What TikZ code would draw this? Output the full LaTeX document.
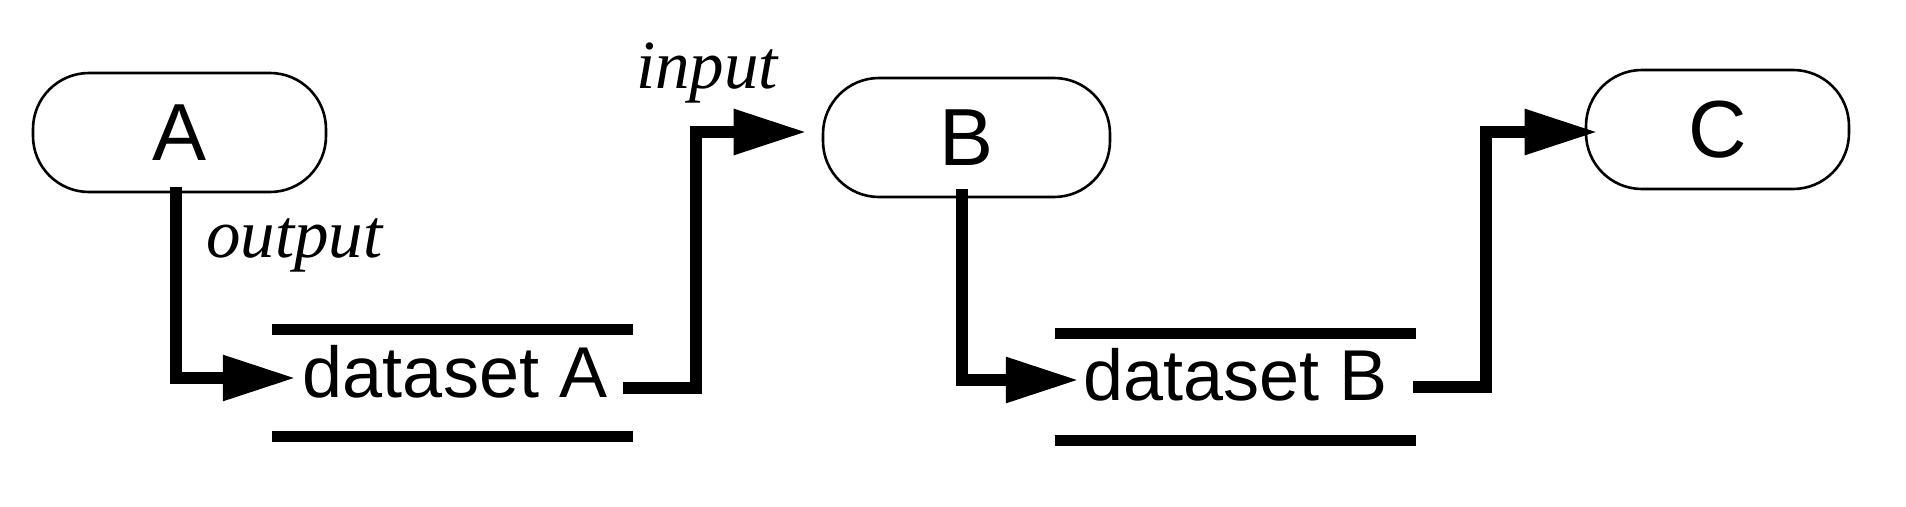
\documentclass[tikz,border=0pt]{standalone}
\usepackage{fontspec}
\setmainfont{Liberation Serif}
\setsansfont{Liberation Sans}
\usetikzlibrary{arrows.meta}
\begin{document}
\begin{tikzpicture}[x=1pt,y=-1pt,
  proc/.style={draw, line width=2.6pt, rounded corners=56pt, minimum height=119pt, inner sep=0pt, font=\sffamily\fontsize{81}{90}\selectfont},
  dslabel/.style={inner sep=0pt, font=\sffamily\fontsize{72}{80}\selectfont},
  store/.style={minimum width=361pt, minimum height=106.5pt, inner sep=0pt},
  storeline/.style={line width=11.5pt},
  flow/.style={line width=12pt, -{Triangle[length=73pt,width=43pt]}},
  io/.style={font=\itshape\fontsize{69}{80}\selectfont, inner sep=0pt, anchor=base west}]
\fill[white] (0,0) rectangle (1906,506);
\useasboundingbox (0,0) rectangle (1906,506);
% processes
\node[proc, minimum width=293pt] (A) at (179.5,132.5) {A};
\node[proc, minimum width=287pt] (B) at (966.5,137.5) {B};
\node[proc, minimum width=263pt] (C) at (1717.5,129.5) {C};
% data stores
\node[store] (dsA) at (452.5,383) {};
\node[store] (dsB) at (1235.5,387) {};
\draw[storeline] (dsA.north west) -- (dsA.north east);
\draw[storeline] (dsA.south west) -- (dsA.south east);
\draw[storeline] (dsB.north west) -- (dsB.north east);
\draw[storeline] (dsB.south west) -- (dsB.south east);
\node[dslabel] (dsAt) at (455,372) {dataset A};
\node[dslabel] (dsBt) at (1235.5,375) {dataset B};
% labels
\node[io] (out) at (206,257) {output};
\node[io] (in) at (636,88) {input};
% flows
\draw[flow] ([xshift=-3.5pt,yshift=6pt]A.south) |- ([xshift=24pt,yshift=5pt]dsA.west);
\draw[flow] ([xshift=-10pt,yshift=-5pt]dsA.east) -- ++(73,0) |- ([xshift=-15pt,yshift=5.5pt]B.west);
\draw[flow] ([xshift=-4.5pt,yshift=9pt]B.south) |- ([xshift=24pt,yshift=7pt]dsB.west);
\draw[flow] ([xshift=-3pt]dsB.east) -- ++(73,0) |- ([xshift=13pt,yshift=-2.5pt]C.west);
\end{tikzpicture}
\end{document}
